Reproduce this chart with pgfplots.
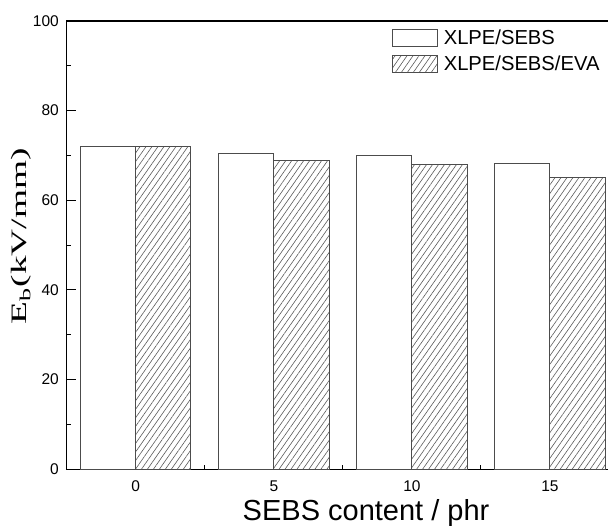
\documentclass[border=0pt]{standalone}
\usepackage{fontspec}
\setmainfont{Liberation Sans}
\newfontfamily\seriffont{Liberation Serif}
\usepackage{pgfplots}
\pgfplotsset{compat=1.18}
\usetikzlibrary{patterns.meta}
\begin{document}
\begin{tikzpicture}
\begin{axis}[
  scale only axis, width=552.3bp, height=448.3bp,
  at={(0,0)}, anchor=south west,
  xmin=-0.5, xmax=3.5, ymin=0, ymax=100,
  xtick={0,1,2,3}, xticklabels={0,5,10,15},
  minor xtick={0.5,1.5,2.5},
  ytick={0,20,40,60,80,100}, minor ytick={10,30,50,70,90},
  tick align=inside, xtick pos=bottom, ytick pos=left,
  major tick length=9bp, minor tick length=4.5bp,
  tick style={black, line width=1bp},
  axis line style={line width=1.3bp},
  ticklabel style={font=\fontsize{15.5bp}{18bp}\selectfont},
  /pgf/number format/assume math mode=true,
  yticklabel style={xshift=-4.4bp},
  xticklabel style={yshift=-8bp},
  xlabel={SEBS content / phr},
  xlabel style={at={(axis description cs:0.542,0)}, anchor=base, yshift=-50.8bp, font=\fontsize{29bp}{34bp}\selectfont},
  ylabel={\scalebox{1.7}[1]{E\textsubscript{b}(kV/mm)}},
  ylabel style={at={(axis description cs:-0.0724,0.52)}, anchor=base, rotate=0, font=\seriffont\fontsize{22bp}{26bp}\selectfont},
  legend style={draw=none, fill=none, inner sep=0pt, outer sep=0pt,
    at={(axis description cs:0.5895,0.9815)}, anchor=north west,
    row sep=8bp, column sep=0pt,
    nodes={inner xsep=5.5bp, inner ysep=0pt},
    font=\fontsize{20.2bp}{23bp}\selectfont},
  legend cell align=left,
]
\addplot[ybar, bar width=0.4, bar shift=-0.2, fill=white, draw=black!70, line width=1bp,
  legend image code/.code={\draw[fill=white, draw=black!70, line width=1bp] (0bp,-8.5bp) rectangle (45bp,8.5bp);}]
  coordinates {(0,72) (1,70.4) (2,70) (3,68.2)};
\addlegendentry{XLPE/SEBS}
\addplot[ybar, bar width=0.4, bar shift=0.2, draw=black!70, line width=1bp,
  pattern={Lines[angle=55,distance=4.9bp,line width=0.6bp]}, pattern color=black!65,
  legend image code/.code={\draw[draw=black!70, line width=1bp, pattern={Lines[angle=55,distance=4.9bp,line width=0.6bp]}, pattern color=black!65] (0bp,-8.5bp) rectangle (45bp,8.5bp);}]
  coordinates {(0,72) (1,68.9) (2,67.9) (3,65)};
\addlegendentry{XLPE/SEBS/EVA}
\end{axis}
\pgfresetboundingbox
\path[use as bounding box] (-66.7bp,-56.7bp) rectangle (541.3bp,469.3bp);
\end{tikzpicture}
\end{document}
